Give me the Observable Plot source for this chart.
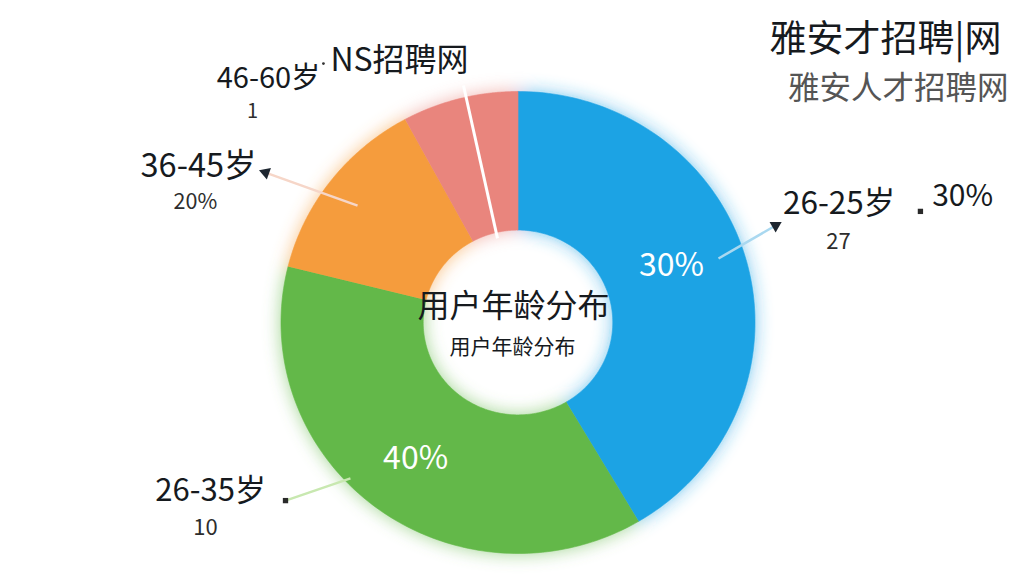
<!DOCTYPE html>
<html><head><meta charset="utf-8">
<script src="https://cdn.jsdelivr.net/npm/d3@7"></script>
<script src="https://cdn.jsdelivr.net/npm/@observablehq/plot@0.6"></script>
<style>body{margin:0;background:#fff;overflow:hidden} svg{display:block}</style>
</head><body><div id="chart"></div>
<script>
// ---- data (clockwise from 12 o'clock) ----
const categories = ["26-25岁", "26-35岁", "36-45岁", "46-60岁"];
const shares = [41.5, 37.4, 13.2, 7.9];            // angular share of each slice
const colors = ["#1fa3e4", "#63b848", "#f59c3c", "#e9857d"];
const innerLabels = ["30%", "40%", "", ""];
const subLabels = ["27", "10", "20%", "1"];
const extraLabel = "30%";
const topLabel = "NS招聘网";
const centerTitle = "用户年龄分布";
const centerSubtitle = "用户年龄分布";
const title = "雅安才招聘|网";
const subtitle = "雅安人才招聘网";

// ---- layout (radius units; centre of donut = 0,0; y up) ----
const W = 1024, H = 576, CX = 517.5, CY = 322, RX = 237, RY = 231, INNER = 0.4;
const nameLayout = [
  {x: 1.355, y: 0.510, size: 31.5},
  {x: -1.297, y: -0.735, size: 31},
  {x: -1.348, y: 0.672, size: 32.5},
  {x: -1.053, y: 1.052, size: 29}
];
const subLayout = [
  {x: 1.352, y: 0.345, size: 22},
  {x: -1.319, y: -0.893, size: 22},
  {x: -1.361, y: 0.518, size: 21.5},
  {x: -1.120, y: 0.912, size: 20}
];
const innerLayout = [{x: 0.648, y: 0.247}, {x: -0.432, y: -0.589}];
const leaders = [
  {x1: 0.846, y1: 0.277, x2: 1.087, y2: 0.42, stroke: "#a9d8f0", end: "arrow"},
  {x1: -0.707, y1: -0.675, x2: -0.981, y2: -0.771, stroke: "#c8e8b0", end: "square"},
  {x1: -0.677, y1: 0.506, x2: -1.065, y2: 0.649, stroke: "#f6d6c8", end: "arrow"},
  {x1: -0.0865, y1: 0.364, x2: -0.230, y2: 1.026, stroke: "#ffffff", end: "none"}
];

// ---- slice polygons ----
const pie = d3.pie().sort(null).value(d => d)(shares);
const slicePts = [];
pie.forEach((p, i) => {
  const n = 120;
  for (let k = 0; k <= n; k++) {
    const a = p.startAngle + (p.endAngle - p.startAngle) * k / n;
    slicePts.push({cat: categories[i], x: Math.sin(a), y: Math.cos(a)});
  }
  for (let k = n; k >= 0; k--) {
    const a = p.startAngle + (p.endAngle - p.startAngle) * k / n;
    slicePts.push({cat: categories[i], x: INNER * Math.sin(a), y: INNER * Math.cos(a)});
  }
});

const names = categories.map((c, i) => ({text: c, ...nameLayout[i]}));
const subs = subLabels.map((t, i) => ({text: t, ...subLayout[i]}));
const inner = innerLabels.filter(t => t).map((t, i) => ({text: t, ...innerLayout[i]}));
const arrows = leaders.filter(d => d.end === "arrow").map(d => ({
  x: d.x2, y: d.y2,
  rot: Math.atan2((d.x2 - d.x1) * RX, (d.y2 - d.y1) * RY) * 180 / Math.PI
}));
const squares = leaders.filter(d => d.end === "square").map(d => ({x: d.x2, y: d.y2}))
  .concat([{x: 1.698, y: 0.481}]);

const font = "'Noto Sans CJK SC', 'Noto Sans', sans-serif";

const chart = Plot.plot({
  width: W, height: H, margin: 0,
  style: {fontFamily: font, background: "#fff"},
  x: {domain: [-CX / RX, (W - CX) / RX], axis: null},
  y: {domain: [-(H - CY) / RY, CY / RY], axis: null},
  color: {domain: categories, range: colors},
  marks: [
    Plot.line(slicePts, {x: "x", y: "y", z: "cat", fill: "cat", stroke: "cat", strokeWidth: 0.6}),
    Plot.link(leaders, {x1: "x1", y1: "y1", x2: "x2", y2: "y2", stroke: "stroke", strokeWidth: d => d.end === "none" ? 3 : 2.5}),
    Plot.dot(arrows, {x: "x", y: "y", rotate: "rot", symbol: "triangle", r: 4.5, fill: "#1d2630", stroke: "none"}),
    Plot.dot(squares, {x: "x", y: "y", symbol: "square", r: 3, fill: "#2a2a2a", stroke: "none"}),
    Plot.dot([{x: -0.821, y: 1.121}], {x: "x", y: "y", r: 1.4, fill: "#333"}),
    Plot.text(inner, {x: "x", y: "y", text: "text", fill: "#fff", fontSize: 32}),
    Plot.text(names, {x: "x", y: "y", text: "text", fill: "#161a1e", fontSize: d => d.size, lineHeight: 0.9}),
    Plot.text(subs, {x: "x", y: "y", text: "text", fill: "#2d2d2d", fontSize: d => d.size, lineHeight: 0.9}),
    Plot.text([extraLabel], {x: 1.876, y: 0.545, text: d => d, fill: "#161a1e", fontSize: 30}),
    Plot.text([topLabel], {x: -0.5, y: 1.134, text: d => d, fill: "#161a1e", fontSize: 32}),
    Plot.text([centerTitle], {x: -0.019, y: 0.069, text: d => d, fill: "#161a1e", fontSize: 32}),
    Plot.text([centerSubtitle], {x: -0.023, y: -0.108, text: d => d, fill: "#161a1e", fontSize: 21}),
    Plot.text([title], {x: 2.040, y: 1.221, text: d => d, textAnchor: "end", fill: "#161a1e", fontSize: 37}),
    Plot.text([subtitle], {x: 2.070, y: 1.013, text: d => d, textAnchor: "end", fill: "#555", fontSize: 31.5})
  ]
});

// soft glow around the donut
const ns = "http://www.w3.org/2000/svg";
const defs = document.createElementNS(ns, "defs");
defs.innerHTML = `<filter id="glow" x="-30%" y="-30%" width="160%" height="160%">
  <feGaussianBlur in="SourceGraphic" stdDeviation="9" result="b"/>
  <feComponentTransfer in="b" result="b2"><feFuncA type="linear" slope="0.6"/></feComponentTransfer>
  <feMerge><feMergeNode in="b2"/><feMergeNode in="SourceGraphic"/></feMerge></filter>`;
chart.insertBefore(defs, chart.firstChild);
const g = chart.querySelector('g[aria-label="line"]');
if (g) g.setAttribute("filter", "url(#glow)");
document.getElementById("chart").appendChild(chart);
</script>
</body></html>
